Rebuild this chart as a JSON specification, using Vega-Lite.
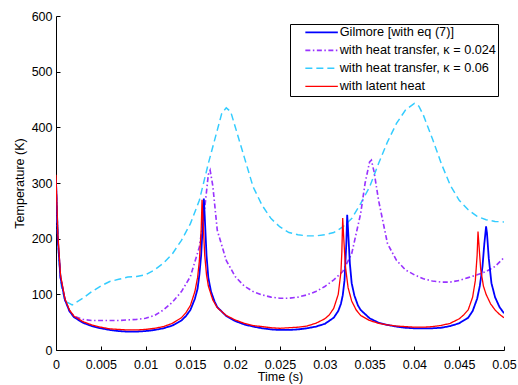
{
  "$schema": "https://vega.github.io/schema/vega-lite/v6.json",
  "width": 448,
  "height": 334,
  "autosize": {"type": "none"},
  "padding": {"left": 56, "top": 16, "right": 14, "bottom": 35},
  "background": "white",
  "config": {
    "view": {"stroke": null},
    "font": "Liberation Sans",
    "axis": {"grid": false, "domainColor": "black", "tickColor": "black", "labelColor": "black", "titleColor": "black", "labelFont": "Liberation Sans", "titleFont": "Liberation Sans", "labelFontSize": 12.5, "titleFontSize": 12.5, "titleFontWeight": "normal", "domainWidth": 1, "tickWidth": 1}
  },
  "data": {"values": [
    {"s":"c","t":0,"T":300},{"s":"c","t":0.0003,"T":170},{"s":"c","t":0.0006,"T":115},{"s":"c","t":0.001,"T":88},{"s":"c","t":0.0018,"T":81},{"s":"c","t":0.003,"T":93},{"s":"c","t":0.004,"T":105},{"s":"c","t":0.005,"T":115},{"s":"c","t":0.006,"T":123},{"s":"c","t":0.007,"T":127},{"s":"c","t":0.008,"T":131},{"s":"c","t":0.009,"T":132},{"s":"c","t":0.010,"T":135},{"s":"c","t":0.011,"T":144},{"s":"c","t":0.012,"T":156},{"s":"c","t":0.013,"T":173},{"s":"c","t":0.014,"T":197},{"s":"c","t":0.015,"T":227},{"s":"c","t":0.016,"T":269},{"s":"c","t":0.017,"T":335},{"s":"c","t":0.018,"T":395},{"s":"c","t":0.0185,"T":425},{"s":"c","t":0.019,"T":435},{"s":"c","t":0.0195,"T":428},{"s":"c","t":0.020,"T":401},{"s":"c","t":0.021,"T":347},{"s":"c","t":0.022,"T":293},{"s":"c","t":0.023,"T":260},{"s":"c","t":0.024,"T":236},{"s":"c","t":0.025,"T":221},{"s":"c","t":0.026,"T":211},{"s":"c","t":0.027,"T":207},{"s":"c","t":0.028,"T":205},{"s":"c","t":0.029,"T":205},{"s":"c","t":0.030,"T":207},{"s":"c","t":0.031,"T":211},{"s":"c","t":0.032,"T":221},{"s":"c","t":0.033,"T":236},{"s":"c","t":0.034,"T":263},{"s":"c","t":0.035,"T":293},{"s":"c","t":0.036,"T":335},{"s":"c","t":0.037,"T":374},{"s":"c","t":0.038,"T":407},{"s":"c","t":0.039,"T":431},{"s":"c","t":0.040,"T":443},{"s":"c","t":0.0405,"T":438},{"s":"c","t":0.041,"T":422},{"s":"c","t":0.042,"T":380},{"s":"c","t":0.043,"T":335},{"s":"c","t":0.044,"T":296},{"s":"c","t":0.045,"T":269},{"s":"c","t":0.046,"T":252},{"s":"c","t":0.047,"T":240},{"s":"c","t":0.048,"T":234},{"s":"c","t":0.049,"T":231},{"s":"c","t":0.050,"T":230},

    {"s":"p","t":0,"T":300},{"s":"p","t":0.0002,"T":200},{"s":"p","t":0.0005,"T":130},{"s":"p","t":0.001,"T":90},{"s":"p","t":0.0015,"T":70},{"s":"p","t":0.002,"T":61},{"s":"p","t":0.003,"T":55},{"s":"p","t":0.004,"T":53},{"s":"p","t":0.005,"T":53},{"s":"p","t":0.006,"T":53},{"s":"p","t":0.007,"T":53},{"s":"p","t":0.008,"T":54},{"s":"p","t":0.009,"T":55},{"s":"p","t":0.010,"T":57},{"s":"p","t":0.011,"T":62},{"s":"p","t":0.012,"T":72},{"s":"p","t":0.013,"T":86},{"s":"p","t":0.014,"T":105},{"s":"p","t":0.015,"T":132},{"s":"p","t":0.016,"T":185},{"s":"p","t":0.0165,"T":240},{"s":"p","t":0.017,"T":315},{"s":"p","t":0.0172,"T":323},{"s":"p","t":0.0175,"T":295},{"s":"p","t":0.018,"T":215},{"s":"p","t":0.019,"T":161},{"s":"p","t":0.020,"T":132},{"s":"p","t":0.021,"T":115},{"s":"p","t":0.022,"T":105},{"s":"p","t":0.023,"T":99},{"s":"p","t":0.024,"T":95},{"s":"p","t":0.025,"T":93},{"s":"p","t":0.026,"T":93},{"s":"p","t":0.027,"T":95},{"s":"p","t":0.028,"T":99},{"s":"p","t":0.029,"T":105},{"s":"p","t":0.030,"T":114},{"s":"p","t":0.031,"T":126},{"s":"p","t":0.032,"T":141},{"s":"p","t":0.033,"T":173},{"s":"p","t":0.034,"T":245},{"s":"p","t":0.0345,"T":300},{"s":"p","t":0.035,"T":338},{"s":"p","t":0.0352,"T":341},{"s":"p","t":0.0355,"T":320},{"s":"p","t":0.036,"T":269},{"s":"p","t":0.037,"T":191},{"s":"p","t":0.038,"T":161},{"s":"p","t":0.039,"T":144},{"s":"p","t":0.040,"T":135},{"s":"p","t":0.041,"T":128},{"s":"p","t":0.042,"T":124},{"s":"p","t":0.043,"T":122},{"s":"p","t":0.044,"T":122},{"s":"p","t":0.045,"T":125},{"s":"p","t":0.046,"T":130},{"s":"p","t":0.047,"T":135},{"s":"p","t":0.048,"T":141},{"s":"p","t":0.049,"T":150},{"s":"p","t":0.050,"T":166},

    {"s":"b","t":0,"T":305},{"s":"b","t":0.0002,"T":200},{"s":"b","t":0.0005,"T":130},{"s":"b","t":0.001,"T":90},{"s":"b","t":0.0015,"T":70},{"s":"b","t":0.002,"T":59},{"s":"b","t":0.003,"T":49},{"s":"b","t":0.004,"T":43},{"s":"b","t":0.005,"T":39},{"s":"b","t":0.006,"T":36},{"s":"b","t":0.007,"T":34},{"s":"b","t":0.008,"T":33},{"s":"b","t":0.009,"T":33},{"s":"b","t":0.010,"T":34},{"s":"b","t":0.011,"T":36},{"s":"b","t":0.012,"T":39},{"s":"b","t":0.013,"T":44},{"s":"b","t":0.014,"T":53},{"s":"b","t":0.0145,"T":61},{"s":"b","t":0.015,"T":72},{"s":"b","t":0.0155,"T":92},{"s":"b","t":0.0158,"T":110},{"s":"b","t":0.016,"T":135},{"s":"b","t":0.0162,"T":170},{"s":"b","t":0.0164,"T":230},{"s":"b","t":0.0165,"T":272},{"s":"b","t":0.0166,"T":240},{"s":"b","t":0.0168,"T":170},{"s":"b","t":0.017,"T":130},{"s":"b","t":0.0173,"T":105},{"s":"b","t":0.0177,"T":87},{"s":"b","t":0.018,"T":77},{"s":"b","t":0.019,"T":61},{"s":"b","t":0.020,"T":52},{"s":"b","t":0.021,"T":46},{"s":"b","t":0.022,"T":42},{"s":"b","t":0.023,"T":39},{"s":"b","t":0.024,"T":37},{"s":"b","t":0.025,"T":36},{"s":"b","t":0.026,"T":36},{"s":"b","t":0.027,"T":37},{"s":"b","t":0.028,"T":39},{"s":"b","t":0.029,"T":42},{"s":"b","t":0.030,"T":47},{"s":"b","t":0.031,"T":58},{"s":"b","t":0.0315,"T":70},{"s":"b","t":0.0318,"T":83},{"s":"b","t":0.032,"T":98},{"s":"b","t":0.0322,"T":125},{"s":"b","t":0.0324,"T":190},{"s":"b","t":0.0325,"T":243},{"s":"b","t":0.0326,"T":215},{"s":"b","t":0.0328,"T":155},{"s":"b","t":0.033,"T":120},{"s":"b","t":0.0333,"T":98},{"s":"b","t":0.0337,"T":80},{"s":"b","t":0.034,"T":72},{"s":"b","t":0.035,"T":57},{"s":"b","t":0.036,"T":49},{"s":"b","t":0.037,"T":45},{"s":"b","t":0.038,"T":42},{"s":"b","t":0.039,"T":40},{"s":"b","t":0.040,"T":39},{"s":"b","t":0.041,"T":39},{"s":"b","t":0.042,"T":39},{"s":"b","t":0.043,"T":40},{"s":"b","t":0.044,"T":43},{"s":"b","t":0.045,"T":48},{"s":"b","t":0.046,"T":58},{"s":"b","t":0.0465,"T":70},{"s":"b","t":0.047,"T":92},{"s":"b","t":0.0473,"T":115},{"s":"b","t":0.0476,"T":150},{"s":"b","t":0.0478,"T":190},{"s":"b","t":0.048,"T":222},{"s":"b","t":0.0481,"T":210},{"s":"b","t":0.0483,"T":165},{"s":"b","t":0.0486,"T":120},{"s":"b","t":0.049,"T":95},{"s":"b","t":0.0495,"T":77},{"s":"b","t":0.050,"T":66},

    {"s":"r","t":0,"T":315},{"s":"r","t":0.0002,"T":210},{"s":"r","t":0.0005,"T":135},{"s":"r","t":0.001,"T":92},{"s":"r","t":0.0015,"T":72},{"s":"r","t":0.002,"T":61},{"s":"r","t":0.003,"T":51},{"s":"r","t":0.004,"T":45},{"s":"r","t":0.005,"T":41},{"s":"r","t":0.006,"T":38},{"s":"r","t":0.007,"T":37},{"s":"r","t":0.008,"T":36},{"s":"r","t":0.009,"T":36},{"s":"r","t":0.010,"T":37},{"s":"r","t":0.011,"T":39},{"s":"r","t":0.012,"T":42},{"s":"r","t":0.013,"T":48},{"s":"r","t":0.014,"T":58},{"s":"r","t":0.0145,"T":67},{"s":"r","t":0.015,"T":80},{"s":"r","t":0.0155,"T":105},{"s":"r","t":0.0158,"T":130},{"s":"r","t":0.016,"T":160},{"s":"r","t":0.0162,"T":215},{"s":"r","t":0.0163,"T":270},{"s":"r","t":0.0164,"T":235},{"s":"r","t":0.0166,"T":170},{"s":"r","t":0.0168,"T":135},{"s":"r","t":0.017,"T":115},{"s":"r","t":0.0175,"T":90},{"s":"r","t":0.018,"T":76},{"s":"r","t":0.019,"T":62},{"s":"r","t":0.020,"T":54},{"s":"r","t":0.021,"T":48},{"s":"r","t":0.022,"T":44},{"s":"r","t":0.023,"T":42},{"s":"r","t":0.024,"T":40},{"s":"r","t":0.025,"T":39},{"s":"r","t":0.026,"T":40},{"s":"r","t":0.027,"T":41},{"s":"r","t":0.028,"T":43},{"s":"r","t":0.029,"T":48},{"s":"r","t":0.030,"T":56},{"s":"r","t":0.0305,"T":63},{"s":"r","t":0.031,"T":75},{"s":"r","t":0.0315,"T":100},{"s":"r","t":0.0318,"T":140},{"s":"r","t":0.0319,"T":175},{"s":"r","t":0.032,"T":237},{"s":"r","t":0.0321,"T":205},{"s":"r","t":0.0323,"T":150},{"s":"r","t":0.0326,"T":112},{"s":"r","t":0.033,"T":88},{"s":"r","t":0.0335,"T":72},{"s":"r","t":0.034,"T":62},{"s":"r","t":0.035,"T":53},{"s":"r","t":0.036,"T":48},{"s":"r","t":0.037,"T":45},{"s":"r","t":0.038,"T":43},{"s":"r","t":0.039,"T":42},{"s":"r","t":0.040,"T":41},{"s":"r","t":0.041,"T":41},{"s":"r","t":0.042,"T":42},{"s":"r","t":0.043,"T":44},{"s":"r","t":0.044,"T":48},{"s":"r","t":0.045,"T":56},{"s":"r","t":0.0455,"T":63},{"s":"r","t":0.046,"T":72},{"s":"r","t":0.0465,"T":95},{"s":"r","t":0.0468,"T":125},{"s":"r","t":0.047,"T":170},{"s":"r","t":0.0471,"T":213},{"s":"r","t":0.0472,"T":190},{"s":"r","t":0.0474,"T":145},{"s":"r","t":0.0477,"T":115},{"s":"r","t":0.048,"T":100},{"s":"r","t":0.0485,"T":83},{"s":"r","t":0.049,"T":72},{"s":"r","t":0.0495,"T":64},{"s":"r","t":0.050,"T":58}
  ]},
  "mark": {"type": "line", "clip": true, "strokeCap": "butt"},
  "encoding": {
    "x": {"field": "t", "type": "quantitative", "title": "Time (s)",
      "scale": {"domain": [0, 0.05], "nice": false, "zero": false},
      "axis": {"values": [0,0.005,0.01,0.015,0.02,0.025,0.03,0.035,0.04,0.045,0.05], "format": "~g", "tickSize": -4, "labelPadding": 12, "titlePadding": 0, "labelFlush": false}},
    "y": {"field": "T", "type": "quantitative", "title": "Temperature (K)",
      "scale": {"domain": [0, 600], "nice": false},
      "axis": {"values": [0,100,200,300,400,500,600], "tickSize": -4, "labelPadding": 8, "titlePadding": 5}},
    "color": {"field": "s", "type": "nominal",
      "scale": {"domain": ["b","p","c","r"], "range": ["#0000ff","#9933ff","#33ccff","#ff0000"]},
      "legend": {"title": null, "orient": "none", "legendX": 234, "legendY": 8,
        "labelExpr": "datum.value == 'b' ? 'Gilmore [with eq (7)]' : datum.value == 'p' ? 'with heat transfer, κ = 0.024' : datum.value == 'c' ? 'with heat transfer, κ = 0.06' : 'with latent heat'",
        "symbolType": "M0,0H6.5", "symbolSize": 100, "symbolOffset": 7, "rowPadding": 4, "labelFontSize": 12.7, "labelFont": "Liberation Sans", "labelColor": "black", "labelLimit": 300, "labelOffset": 28,
        "strokeColor": "black", "fillColor": "white", "padding": 2, "cornerRadius": 0}},
    "strokeDash": {"field": "s", "type": "nominal",
      "scale": {"domain": ["b","p","c","r"], "range": [[1,0],[5,2.5,1.5,2.5],[7,4],[1,0]]}},
    "strokeWidth": {"field": "s", "type": "nominal",
      "scale": {"domain": ["b","p","c","r"], "range": [1.8,1.3,1,1.2]}}
  }
}
